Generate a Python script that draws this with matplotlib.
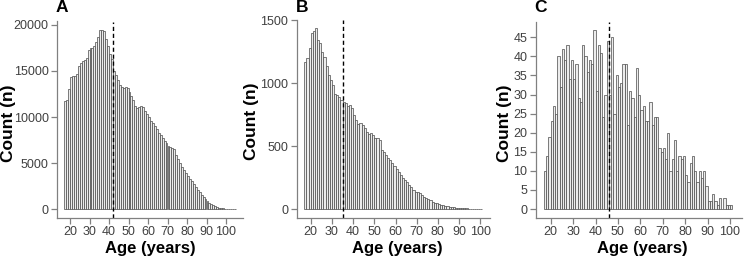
import matplotlib.pyplot as plt
import numpy as np

plt.rcParams['font.family'] = ['Liberation Sans', 'DejaVu Sans']

# counts per year of age (first bar = age 18)
countsA = [11700, 11900, 13000, 14400, 14500, 14500, 14700, 15500, 15900, 16100,
           16200, 16400, 17300, 17500, 17500, 17700, 18200, 18700, 19500, 19500,
           19400, 18500, 17700, 16800, 16300, 15000, 14600, 14000, 13500, 13300,
           13200, 13300, 13200, 12700, 12300, 11800, 11200, 11000, 11100, 11200,
           11100, 10700, 10300, 10000, 9600, 9300, 9000, 8700, 8300, 8000,
           7700, 7400, 7200, 6900, 6700, 6600, 6500, 5900, 5400, 5000,
           4600, 4200, 3900, 3600, 3300, 3000, 2700, 2400, 2100, 1800,
           1550, 1300, 1100, 900, 700, 550, 420, 300, 210, 150,
           100, 70, 45, 30, 20, 12, 8, 5]
countsB = [1170, 1196, 1275, 1394, 1413, 1435, 1341, 1315, 1249, 1209,
           1135, 1064, 1024, 984, 913, 905, 892, 865, 852, 839,
           818, 826, 799, 746, 707, 675, 685, 667, 640, 614,
           595, 606, 587, 561, 561, 548, 468, 455, 429, 402,
           389, 363, 341, 318, 296, 270, 243, 230, 217, 190,
           177, 151, 138, 138, 130, 111, 98, 85, 77, 71,
           58, 50, 45, 40, 35, 30, 26, 22, 19, 16,
           13, 11, 9, 7, 6, 5, 4, 3, 3, 2,
           2, 1, 1, 1]
countsC = [10, 14, 19, 23, 27, 25, 40, 32, 42, 39,
           43, 34, 39, 34, 38, 29, 28, 43, 40, 36,
           39, 38, 47, 31, 43, 41, 24, 30, 44, 30,
           45, 25, 35, 32, 33, 38, 38, 22, 31, 29,
           24, 37, 30, 26, 27, 23, 23, 28, 22, 24,
           24, 16, 15, 16, 13, 20, 10, 13, 18, 10,
           14, 13, 14, 9, 7, 12, 14, 10, 7, 10,
           8, 10, 6, 2, 2, 4, 2, 1, 3, 0,
           3, 1, 1, 1]
medians = [42, 35, 46]
letters = ['A', 'B', 'C']
yticks = [[0, 5000, 10000, 15000, 20000],
          [0, 500, 1000, 1500],
          [0, 5, 10, 15, 20, 25, 30, 35, 40, 45]]
xticks = [20, 30, 40, 50, 60, 70, 80, 90, 100]

W, H = 744, 260
fig = plt.figure(figsize=(W / 100, H / 100), dpi=100)

# pixel layout: (x of 20, x of 100, y of 0, y of top tick, box left, right, top, bottom)
layout = [
    (70.0, 226.0, 209.0, 25.0, 57.0, 242.6, 21.5, 218.0),
    (310.7, 480.3, 209.0, 20.0, 296.7, 489.5, 19.5, 218.0),
    (550.7, 730.0, 209.0, 37.3, 535.7, 742.0, 21.5, 218.0),
]
ylab_x = [9, 252, 505]

for k, counts in enumerate([countsA, countsB, countsC]):
    x20, x100, y0, ytp, L, R, T, B = layout[k]
    ax = fig.add_axes([L / W, 1 - B / H, (R - L) / W, (B - T) / H])
    s = (x100 - x20) / 80
    t = (y0 - ytp) / yticks[k][-1]
    ax.set_xlim(20 + (L - x20) / s, 20 + (R - x20) / s)
    ax.set_ylim(-(B - y0) / t, (y0 - T) / t)

    ages = np.arange(18, 18 + len(counts))
    ax.bar(ages - 1, counts, width=1, align='edge', color='#ececec',
           edgecolor='#4a4a4a', linewidth=0.5)
    ax.axvline(medians[k], color='black', linestyle='--', linewidth=1.0,
               dashes=(3, 2))

    for sp in ['top', 'right']:
        ax.spines[sp].set_visible(False)
    for sp in ['left', 'bottom']:
        ax.spines[sp].set_color('#808080')
        ax.spines[sp].set_linewidth(0.9)
    ax.set_xticks(xticks)
    ax.set_yticks(yticks[k])
    ax.tick_params(axis='both', colors='#808080', labelcolor='#404040',
                   labelsize=9, length=4.5, width=0.9)
    ax.tick_params(axis='y', pad=1.5)
    ax.tick_params(axis='x', pad=1.5)

    fig.text((L + 5) / W, 1 - 8 / H, letters[k], fontsize=12.5,
             fontweight='bold', ha='center', va='center')
    fig.text(ylab_x[k] / W, 1 - ((T + B) / 2 + 3) / H, 'Count (n)',
             fontsize=12.5, fontweight='bold', rotation=90,
             ha='center', va='center')
    fig.text(((x20 + x100) / 2 + 2) / W, 1 - 248 / H, 'Age (years)',
             fontsize=12, fontweight='bold', ha='center', va='center')

fig.savefig('out.png', dpi=100)
